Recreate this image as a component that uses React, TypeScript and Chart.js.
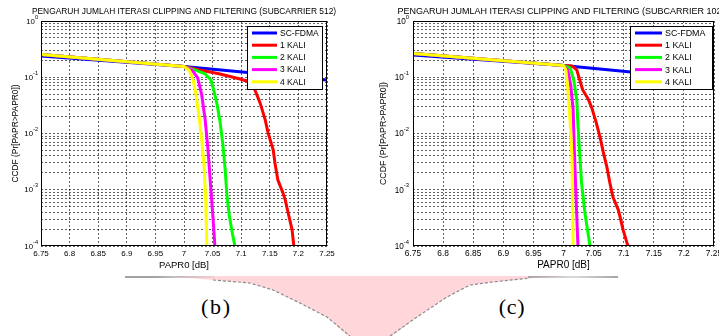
import React, { useEffect, useRef } from "react";
import { Chart, registerables } from "chart.js";

Chart.register(...registerables);

// ---------- shared labels ----------
const seriesNames = ["SC-FDMA", "1 KALI", "2 KALI", "3 KALI", "4 KALI"];
const seriesColors = ["#0000ff", "#ff0000", "#00ff00", "#ff00ff", "#ffff00"];
const xTickValues = [6.75, 6.8, 6.85, 6.9, 6.95, 7, 7.05, 7.1, 7.15, 7.2, 7.25];
const yDecadeValues = [0.0001, 0.001, 0.01, 0.1, 1];
const logMultipliers = [1, 2, 3, 4, 5, 6, 7, 8, 9];
const titleLeft = "PENGARUH JUMLAH ITERASI CLIPPING AND FILTERING (SUBCARRIER 512)";
const titleRight = "PENGARUH JUMLAH ITERASI CLIPPING AND FILTERING (SUBCARRIER 1024)";
const xAxisTitle = "PAPR0 [dB]";
const yAxisTitle = "CCDF (Pr[PAPR>PAPR0])";
const panelLabels = ["(b)", "(c)"];

// ---------- Subcarrier 512 ----------
const s512FdmaX = [6.75, 7.0, 7.25];
const s512FdmaY = [0.239, 0.1555, 0.0895];
const s512Kali1X = [6.75, 7.0, 7.028, 7.063, 7.098, 7.115, 7.124, 7.133, 7.142, 7.147, 7.156, 7.159, 7.164, 7.173, 7.177, 7.182, 7.189, 7.192];
const s512Kali1Y = [0.254, 0.1555, 0.135, 0.1145, 0.0933, 0.0825, 0.0594, 0.035, 0.0175, 0.01025, 0.0051, 0.003, 0.0015, 0.00088, 0.00066, 0.00039, 0.000194, 0.0001];
const s512Kali2X = [6.75, 7.0, 7.019, 7.037, 7.047, 7.052, 7.058, 7.063, 7.068, 7.072, 7.075, 7.079, 7.084, 7.089];
const s512Kali2Y = [0.254, 0.1555, 0.135, 0.1145, 0.0895, 0.0594, 0.0322, 0.0161, 0.00628, 0.00225, 0.00081, 0.00036, 0.000179, 0.0001];
const s512Kali3X = [6.75, 7.0, 7.014, 7.024, 7.031, 7.037, 7.042, 7.047, 7.051, 7.054];
const s512Kali3Y = [0.254, 0.1555, 0.135, 0.097, 0.0485, 0.0175, 0.0051, 0.001, 0.00029, 0.0001];
const s512Kali4X = [6.75, 7.0, 7.009, 7.016, 7.021, 7.026, 7.031, 7.035, 7.038, 7.04];
const s512Kali4Y = [0.254, 0.1555, 0.135, 0.0895, 0.0485, 0.0214, 0.0077, 0.00277, 0.00066, 0.0001];

// ---------- Subcarrier 1024 ----------
const s1024FdmaX = [6.75, 7.0, 7.25];
const s1024FdmaY = [0.249, 0.162, 0.0895];
const s1024Kali1X = [6.75, 7.0, 7.014, 7.022, 7.027, 7.032, 7.041, 7.047, 7.054, 7.061, 7.066, 7.072, 7.077, 7.082, 7.091, 7.094, 7.099, 7.107];
const s1024Kali1Y = [0.265, 0.162, 0.159, 0.135, 0.0895, 0.0594, 0.0412, 0.0285, 0.0161, 0.00836, 0.00471, 0.00255, 0.00133, 0.00075, 0.00044, 0.00033, 0.000194, 0.0001];
const s1024Kali2X = [6.75, 7.0, 7.011, 7.017, 7.022, 7.024, 7.027, 7.03, 7.036, 7.044];
const s1024Kali2Y = [0.265, 0.162, 0.146, 0.0895, 0.0395, 0.0142, 0.00417, 0.00133, 0.00036, 0.0001];
const s1024Kali3X = [6.75, 7.0, 7.007, 7.012, 7.016, 7.018, 7.021, 7.024];
const s1024Kali3Y = [0.265, 0.162, 0.135, 0.073, 0.0262, 0.0051, 0.00066, 0.0001];
const s1024Kali4X = [6.75, 7.0, 7.004, 7.007, 7.011, 7.014, 7.015, 7.016];
const s1024Kali4Y = [0.265, 0.162, 0.135, 0.0645, 0.0161, 0.00417, 0.00066, 0.0001];

const FAMILY = "'Liberation Sans', Arial, Helvetica, sans-serif";

const gridYValues: number[] = [];
yDecadeValues.forEach((d, i) => {
  if (i === yDecadeValues.length - 1) {
    gridYValues.push(d);
  } else {
    logMultipliers.forEach((m) => gridYValues.push(Number((m * d).toPrecision(3))));
  }
});

const fmtX = (v: number) => String(Number(v.toFixed(2)));

const leftPanel = {
  key: "left",
  left: 0,
  width: 366,
  height: 280,
  title: titleLeft,
  titleFont: 8.4,
  titleY: 12,
  series: [
    [s512FdmaX, s512FdmaY],
    [s512Kali1X, s512Kali1Y],
    [s512Kali2X, s512Kali2Y],
    [s512Kali3X, s512Kali3Y],
    [s512Kali4X, s512Kali4Y],
  ],
  padding: { left: 5, right: 39, top: 21, bottom: 8.8 },
  yTitleFont: 8.4,
  yTitlePad: { top: 5.3, bottom: 20.62 },
  xTickFont: 8,
  xTickPad: 3.2,
  xTitleFont: 9.5,
  xTitlePad: { top: -2.2, bottom: 0 },
  yTickFont: 7.8,
  yExpFont: 5.6,
  yExpRaise: 4,
  yLabelGap: 3,
  lineWidth: 3,
  legend: { right: 4, top: 5, width: 76, height: 64, firstRow: 7, rowStep: 12.2, l0: 5, l1: 30, tx: 33, font: 8.5 },
};

const rightPanel = {
  key: "right",
  left: 360,
  width: 370,
  height: 280,
  title: titleRight,
  titleFont: 9.0,
  titleY: 12,
  series: [
    [s1024FdmaX, s1024FdmaY],
    [s1024Kali1X, s1024Kali1Y],
    [s1024Kali2X, s1024Kali2Y],
    [s1024Kali3X, s1024Kali3Y],
    [s1024Kali4X, s1024Kali4Y],
  ],
  padding: { left: 5, right: 16, top: 21, bottom: 8.5 },
  yTitleFont: 8.8,
  yTitlePad: { top: 13.22, bottom: 24.22 },
  xTickFont: 8.4,
  xTickPad: 2.96,
  xTitleFont: 10,
  xTitlePad: { top: -2.5, bottom: 0 },
  yTickFont: 8.2,
  yExpFont: 5.8,
  yExpRaise: 4,
  yLabelGap: 4,
  lineWidth: 3,
  legend: { right: 1, top: 5, width: 83, height: 64, firstRow: 7, rowStep: 12.2, l0: 5, l1: 32, tx: 35, font: 8.9 },
};

function decorPlugin(p: any) {
  return {
    id: "decor_" + p.key,
    afterDraw(chart: any) {
      const { ctx, chartArea: a } = chart;
      const ys = chart.scales.y;
      ctx.save();
      ctx.setLineDash([]);
      // axes box
      ctx.strokeStyle = "#000";
      ctx.lineWidth = 1;
      ctx.strokeRect(a.left + 0.5, a.top + 0.5, a.right - a.left - 1, a.bottom - a.top - 1);
      // y tick labels with superscript exponents
      ctx.fillStyle = "#000";
      ctx.textBaseline = "middle";
      yDecadeValues.forEach((v) => {
        const y = ys.getPixelForValue(v);
        const expStr = String(Math.round(Math.log10(v)));
        ctx.font = `${p.yExpFont}px ${FAMILY}`;
        const ew = ctx.measureText(expStr).width;
        const xr = a.left - p.yLabelGap;
        ctx.textAlign = "left";
        ctx.fillText(expStr, xr - ew, y - p.yExpRaise);
        ctx.font = `${p.yTickFont}px ${FAMILY}`;
        ctx.textAlign = "right";
        ctx.fillText("10", xr - ew, y + 0.5);
      });
      // title
      ctx.font = `${p.titleFont}px ${FAMILY}`;
      ctx.textAlign = "center";
      ctx.fillText(p.title, (a.left + a.right) / 2, p.titleY);
      // legend
      const L = p.legend;
      const bx = a.right - L.right - L.width;
      const by = a.top + L.top;
      ctx.fillStyle = "#fff";
      ctx.fillRect(bx, by, L.width, L.height);
      ctx.strokeStyle = "#000";
      ctx.lineWidth = 1;
      ctx.strokeRect(bx + 0.5, by + 0.5, L.width - 1, L.height - 1);
      seriesNames.forEach((name, i) => {
        const ry = by + L.firstRow + i * L.rowStep;
        ctx.strokeStyle = seriesColors[i];
        ctx.lineWidth = p.lineWidth;
        ctx.beginPath();
        ctx.moveTo(bx + L.l0, ry);
        ctx.lineTo(bx + L.l1, ry);
        ctx.stroke();
        ctx.fillStyle = "#000";
        ctx.font = `${L.font}px ${FAMILY}`;
        ctx.textAlign = "left";
        ctx.textBaseline = "middle";
        ctx.fillText(name, bx + L.tx, ry + 0.5);
      });
      ctx.restore();
    },
  };
}

function buildConfig(p: any) {
  const datasets = p.series.map((s: number[][], i: number) => ({
    label: seriesNames[i],
    data: s[0].map((x: number, k: number) => ({ x, y: s[1][k] })),
    borderColor: seriesColors[i],
    backgroundColor: seriesColors[i],
    borderWidth: p.lineWidth,
    pointRadius: 0,
    pointHoverRadius: 0,
    tension: 0,
    fill: false,
    order: seriesNames.length - i,
    borderJoinStyle: "round",
  }));
  const gridColor = "rgba(0,0,0,0.62)";
  return {
    type: "line",
    data: { datasets },
    options: {
      animation: false,
      responsive: false,
      maintainAspectRatio: false,
      devicePixelRatio: 1,
      layout: { padding: p.padding },
      plugins: {
        legend: { display: false },
        tooltip: { enabled: false },
        title: { display: false },
      },
      scales: {
        x: {
          type: "linear",
          min: 6.75,
          max: 7.25,
          afterBuildTicks: (scale: any) => {
            scale.ticks = xTickValues.map((v) => ({ value: v }));
          },
          ticks: {
            callback: (v: number) => fmtX(v),
            font: { family: FAMILY, size: p.xTickFont },
            color: "#000",
            padding: p.xTickPad,
            maxRotation: 0,
            minRotation: 0,
            autoSkip: false,
          },
          title: {
            display: true,
            text: xAxisTitle,
            color: "#000",
            font: { family: FAMILY, size: p.xTitleFont },
            padding: p.xTitlePad,
          },
          grid: { color: gridColor, lineWidth: 1, drawTicks: false },
          border: { display: false, dash: [2, 2] },
        },
        y: {
          type: "logarithmic",
          min: 0.0001,
          max: 1,
          afterBuildTicks: (scale: any) => {
            scale.ticks = gridYValues.map((v) => ({ value: v }));
          },
          ticks: { display: false, autoSkip: false },
          title: {
            display: true,
            text: yAxisTitle,
            color: "#000",
            font: { family: FAMILY, size: p.yTitleFont },
            padding: p.yTitlePad,
          },
          grid: { color: gridColor, lineWidth: 1, drawTicks: false },
          border: { display: false, dash: [2, 2] },
        },
      },
    },
    plugins: [decorPlugin(p)],
  };
}

function PanelChart({ p }: { p: any }) {
  const ref = useRef<HTMLCanvasElement>(null);
  useEffect(() => {
    if (!ref.current) return;
    const chart = new Chart(ref.current, buildConfig(p) as any);
    return () => chart.destroy();
  }, [p]);
  return (
    <canvas
      ref={ref}
      width={p.width}
      height={p.height}
      style={{ position: "absolute", left: p.left, top: 0, width: p.width, height: p.height }}
    />
  );
}

const funnelPath =
  "M 177 276 L 567 276 L 530 278 L 493 282 L 470 285 L 447 297 L 417 317 L 392 336 L 348 336 L 327 317 L 300 303 L 273 290 L 250 283 L 213 280 L 177 277 Z";

export default function App() {
  return (
    <div
      style={{
        position: "fixed",
        left: 0,
        top: 0,
        width: 719,
        height: 336,
        overflow: "hidden",
        background: "#fff",
      }}
    >
      <svg width={719} height={336} style={{ position: "absolute", left: 0, top: 0 }}>
        <defs>
          <linearGradient id="ruleL" x1="125" x2="215" y1="0" y2="0" gradientUnits="userSpaceOnUse">
            <stop offset="0" stopColor="#777" stopOpacity="0.9" />
            <stop offset="0.35" stopColor="#777" stopOpacity="0.9" />
            <stop offset="1" stopColor="#bbb" stopOpacity="0.3" />
          </linearGradient>
          <linearGradient id="ruleR" x1="528" x2="618" y1="0" y2="0" gradientUnits="userSpaceOnUse">
            <stop offset="0" stopColor="#888" stopOpacity="0.9" />
            <stop offset="0.5" stopColor="#aaa" stopOpacity="0.6" />
            <stop offset="1" stopColor="#777" stopOpacity="0.9" />
          </linearGradient>
        </defs>
        <path d={funnelPath} fill="#ffd6da" />
        <line x1={125} y1={277} x2={215} y2={277} stroke="url(#ruleL)" strokeWidth={1.4} />
        <line x1={528} y1={277} x2={618} y2={277} stroke="url(#ruleR)" strokeWidth={1.4} />
        <polyline
          points="213,280 250,283 273,290 300,303 327,317 350,336"
          fill="none"
          stroke="#8a8a8a"
          strokeWidth={1.2}
          strokeDasharray="3 2"
        />
        <polyline
          points="390,336 417,317 447,297 470,285 493,282 530,278"
          fill="none"
          stroke="#8a8a8a"
          strokeWidth={1.2}
          strokeDasharray="3 2"
        />
        <text
          x={215.5}
          y={314}
          textAnchor="middle"
          fontFamily="'Liberation Serif', 'Times New Roman', serif"
          fontSize={22}
          fontWeight="normal"
          textLength={29}
          lengthAdjust="spacing"
          fill="#000"
        >
          {panelLabels[0]}
        </text>
        <text
          x={511.7}
          y={314}
          textAnchor="middle"
          fontFamily="'Liberation Serif', 'Times New Roman', serif"
          fontSize={22}
          fontWeight="normal"
          textLength={26}
          lengthAdjust="spacing"
          fill="#000"
        >
          {panelLabels[1]}
        </text>
      </svg>
      <PanelChart p={leftPanel} />
      <PanelChart p={rightPanel} />
    </div>
  );
}
